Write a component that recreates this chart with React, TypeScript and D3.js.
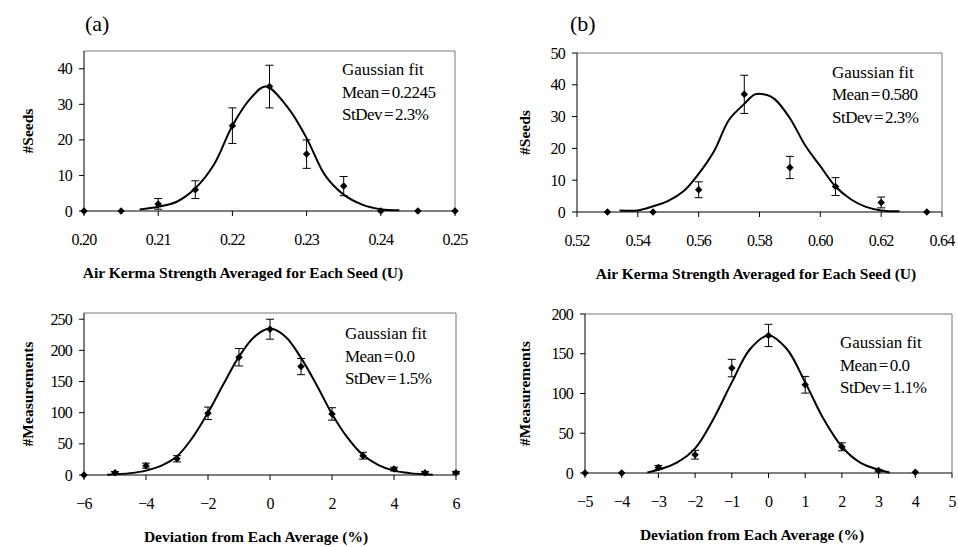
import React from "react";
import * as d3 from "d3";

// (a) seeds histogram, air kerma strength
const xA = [0.2, 0.205, 0.21, 0.215, 0.22, 0.225, 0.23, 0.235, 0.24, 0.245, 0.25];
const seedsA = [0, 0, 2, 6, 24, 35, 16, 7, 0, 0, 0];
const errA = [0, 0, 1.5, 2.5, 5, 6, 4, 2.7, 0, 0, 0];
const fitXA = [0.2075, 0.21, 0.2125, 0.215, 0.2175, 0.22, 0.2225, 0.2245, 0.2275, 0.23, 0.2325, 0.235, 0.2375, 0.24, 0.2425];
const fitYA = [0.4, 1.2, 2.6, 6.4, 13, 24, 31.8, 35, 29, 20.5, 10, 4.6, 1.8, 0.5, 0.2];
const xTicksA = [0.2, 0.21, 0.22, 0.23, 0.24, 0.25];
const yTicksA = [0, 10, 20, 30, 40];

// (b)
const xB = [0.53, 0.545, 0.56, 0.575, 0.59, 0.605, 0.62, 0.635];
const seedsB = [0, 0, 7, 37, 14, 8, 3, 0];
const errB = [0, 0, 2.5, 6, 3.5, 2.8, 1.7, 0];
const fitXB = [0.534, 0.54, 0.545, 0.55, 0.555, 0.56, 0.565, 0.57, 0.575, 0.5785, 0.5825, 0.585, 0.59, 0.595, 0.6, 0.605, 0.61, 0.615, 0.62, 0.626];
const fitYB = [0.5, 0.5, 1.8, 3.5, 6.5, 12, 19, 29, 34, 37, 36.8, 35.5, 29.5, 21, 14.4, 8, 4, 1.6, 0.5, 0.2];
const xTicksB = [0.52, 0.54, 0.56, 0.58, 0.6, 0.62, 0.64];
const yTicksB = [0, 10, 20, 30, 40, 50];

// (c) deviation, left
const xC = [-6, -5, -4, -3, -2, -1, 0, 1, 2, 3, 4, 5, 6];
const measC = [0, 3.5, 15, 26, 99, 189, 234, 174, 98, 31, 9.5, 3.5, 3.5];
const errC = [0, 2, 4, 5, 10, 14, 16, 13, 10, 5.5, 3, 2, 2];
const fitXC = [-5.25, -4.5, -4, -3.5, -3, -2.5, -2, -1.5, -1, -0.5, 0, 0.5, 1, 1.5, 2, 2.5, 3, 3.5, 4, 4.5, 5.25];
const fitYC = [0.5, 3, 7, 15, 30, 60, 100, 146, 190, 222, 235, 222, 188, 145, 98, 60, 32, 16, 7, 3, 0.5];
const xTicksC = [-6, -4, -2, 0, 2, 4, 6];
const yTicksC = [0, 50, 100, 150, 200, 250];

// (d) deviation, right
const xD = [-5, -4, -3, -2, -1, 0, 1, 2, 3, 4];
const measD = [0, 0, 7, 23, 132, 173, 111, 33, 3, 1];
const errD = [0, 0, 2.5, 5.5, 11, 14, 10.5, 5, 1.5, 0];
const fitXD = [-3.3, -3, -2.5, -2, -1.5, -1, -0.5, 0, 0.5, 1, 1.5, 2, 2.5, 3, 3.3];
const fitYD = [0.5, 4, 13, 31, 68, 114, 156, 173, 156, 114, 68, 33, 13, 4, 0.5];
const xTicksD = [-5, -4, -3, -2, -1, 0, 1, 2, 3, 4, 5];
const yTicksD = [0, 50, 100, 150, 200];

const FONT = "Liberation Serif, Times New Roman, Times, serif";

const panels = [
  {
    key: "a", x0: 84, x1: 455, yTop: 51, yBot: 211,
    xDomain: [0.2, 0.25], yDomain: [0, 45],
    xs: xA, ys: seedsA, errs: errA, fitX: fitXA, fitY: fitYA,
    xTicks: xTicksA, yTicks: yTicksA, fmt: d3.format(".2f"),
    yLabel: "#Seeds", yLabelX: 33,
    xLabel: "Air Kerma Strength Averaged for Each Seed (U)", xLabelX: 243,
    note: ["Gaussian fit", "Mean = 0.2245", "StDev = 2.3%"], noteX: 342, noteY: [75, 98, 120],
    tag: "(a)", tagX: 85,
  },
  {
    key: "b", x0: 577, x1: 942, yTop: 53, yBot: 212,
    xDomain: [0.52, 0.64], yDomain: [0, 50],
    xs: xB, ys: seedsB, errs: errB, fitX: fitXB, fitY: fitYB,
    xTicks: xTicksB, yTicks: yTicksB, fmt: d3.format(".2f"),
    yLabel: "#Seeds", yLabelX: 530,
    xLabel: "Air Kerma Strength Averaged for Each Seed (U)", xLabelX: 756,
    note: ["Gaussian fit", "Mean = 0.580", "StDev = 2.3%"], noteX: 832, noteY: [78, 100, 123],
    tag: "(b)", tagX: 570,
  },
  {
    key: "c", x0: 84, x1: 456, yTop: 313, yBot: 475,
    xDomain: [-6, 6], yDomain: [0, 260],
    xs: xC, ys: measC, errs: errC, fitX: fitXC, fitY: fitYC,
    xTicks: xTicksC, yTicks: yTicksC, fmt: d3.format("d"),
    yLabel: "#Measurements", yLabelX: 33,
    xLabel: "Deviation from Each Average (%)", xLabelX: 256,
    note: ["Gaussian fit", "Mean = 0.0", "StDev = 1.5%"], noteX: 345, noteY: [339, 362, 384],
  },
  {
    key: "d", x0: 585, x1: 952, yTop: 314, yBot: 473,
    xDomain: [-5, 5], yDomain: [0, 200],
    xs: xD, ys: measD, errs: errD, fitX: fitXD, fitY: fitYD,
    xTicks: xTicksD, yTicks: yTicksD, fmt: d3.format("d"),
    yLabel: "#Measurements", yLabelX: 530,
    xLabel: "Deviation from Each Average (%)", xLabelX: 752,
    note: ["Gaussian fit", "Mean = 0.0", "StDev = 1.1%"], noteX: 840, noteY: [348, 371, 393],
  },
];

const txt = { fontFamily: FONT };

function Panel({ p }: { p: any }) {
  const x = d3.scaleLinear().domain(p.xDomain).range([p.x0, p.x1]);
  const y = d3.scaleLinear().domain(p.yDomain).range([p.yBot, p.yTop]);
  const line = d3
    .line<number>()
    .x((d, i) => x(p.fitX[i]))
    .y((d) => y(d))
    .curve(d3.curveCatmullRom.alpha(0.5));
  const diamond = d3.symbol(d3.symbolSquare, 28)();
  const yTop = y(p.yDomain[1]);

  return (
    <g>
      {/* plot frame */}
      <line x1={p.x0} x2={p.x1} y1={yTop} y2={yTop} stroke="#777" />
      <line x1={p.x1} x2={p.x1} y1={yTop} y2={p.yBot} stroke="#777" />
      <line x1={p.x0} x2={p.x0} y1={yTop} y2={p.yBot} stroke="#000" />
      <line x1={p.x0} x2={p.x1} y1={p.yBot} y2={p.yBot} stroke="#000" />

      {p.yTicks.map((t: number) => (
        <g key={"y" + t}>
          <line x1={p.x0 - 5} x2={p.x0} y1={y(t)} y2={y(t)} stroke="#000" />
          <text x={p.x0 - 12} y={y(t) + 5.5} textAnchor="end" fontSize={16} letterSpacing={-0.8} style={txt}>
            {t}
          </text>
        </g>
      ))}
      {p.xTicks.map((t: number) => (
        <g key={"x" + t}>
          <line x1={x(t)} x2={x(t)} y1={p.yBot} y2={p.yBot + 5} stroke="#000" />
          <text x={x(t)} y={p.yBot + 34} textAnchor="middle" fontSize={16} letterSpacing={-0.8} style={txt}>
            {p.fmt(t)}
          </text>
        </g>
      ))}

      <path d={line(p.fitY) || ""} fill="none" stroke="#000" strokeWidth={2} strokeLinejoin="round" />

      {p.xs.map((v: number, i: number) => {
        const e = p.errs[i];
        const cx = x(v);
        return (
          <g key={"e" + i} stroke="#000" strokeWidth={1}>
            {e > 0 && (
              <>
                <line x1={cx} x2={cx} y1={y(p.ys[i] - e)} y2={y(p.ys[i] + e)} />
                <line x1={cx - 4} x2={cx + 4} y1={y(p.ys[i] + e)} y2={y(p.ys[i] + e)} />
                <line x1={cx - 4} x2={cx + 4} y1={y(p.ys[i] - e)} y2={y(p.ys[i] - e)} />
              </>
            )}
          </g>
        );
      })}
      {p.xs.map((v: number, i: number) => (
        <path
          key={"m" + i}
          d={diamond || ""}
          transform={`translate(${x(v)},${y(p.ys[i])}) rotate(45)`}
          fill="#000"
        />
      ))}

      {p.note.map((s: string, i: number) => (
        <text
          key={"n" + i}
          x={p.noteX}
          y={p.noteY[i]}
          fontSize={17}
          letterSpacing={i === 0 ? 0 : -0.5}
          wordSpacing={i === 0 ? 0 : -1.8}
          style={txt}
        >
          {s}
        </text>
      ))}

      <text
        transform={`translate(${p.yLabelX},${(yTop + p.yBot) / 2}) rotate(-90)`}
        textAnchor="middle"
        fontSize={15.5}
        fontWeight="bold"
        style={txt}
      >
        {p.yLabel}
      </text>
      <text
        x={p.xLabelX}
        y={p.yBot + 67}
        textAnchor="middle"
        fontSize={15.5}
        fontWeight="bold"
        style={txt}
      >
        {p.xLabel}
      </text>
      {p.tag && (
        <text x={p.tagX} y={31} fontSize={22} style={txt}>
          {p.tag}
        </text>
      )}
    </g>
  );
}

export default function App() {
  return (
    <svg width={958} height={547} style={{ position: "absolute", left: 0, top: 0, background: "#fff" }}>
      <rect width={958} height={547} fill="#fff" />
      {panels.map((p) => (
        <Panel key={p.key} p={p} />
      ))}
    </svg>
  );
}
